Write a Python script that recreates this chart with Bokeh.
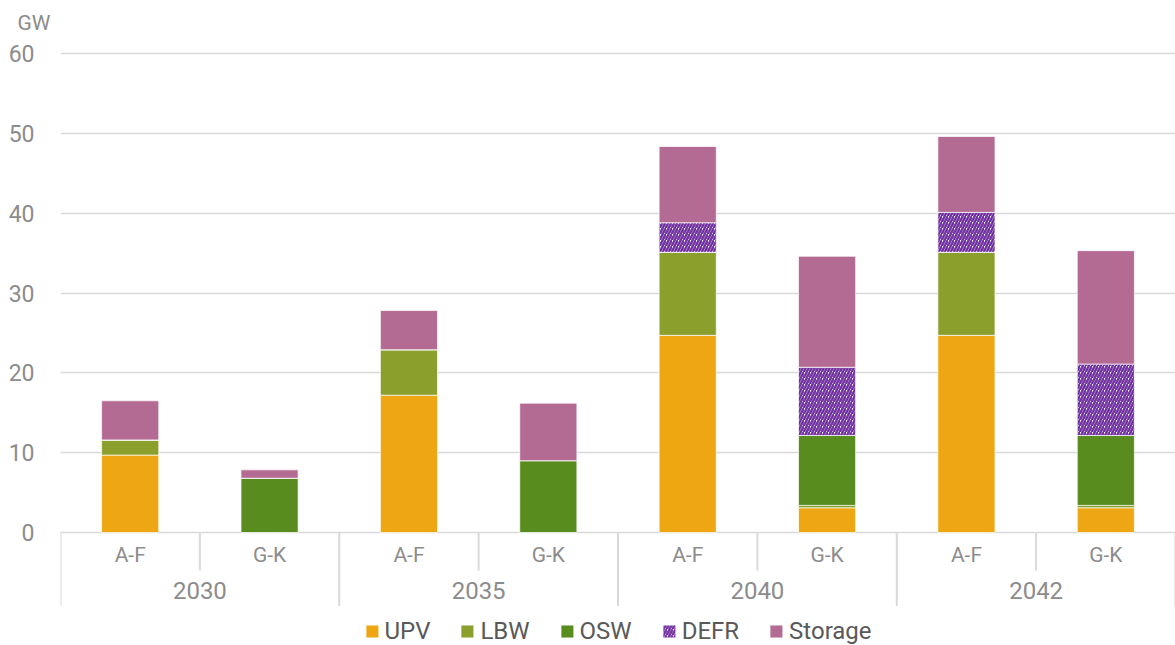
from bokeh.plotting import figure
from bokeh.models import (FactorRange, Range1d, ColumnDataSource, FixedTicker,
                          Legend, LegendItem)
from bokeh.core.properties import value
from bokeh.embed import file_html
from bokeh.resources import INLINE

# ---------------- data ----------------
years = ["2030", "2035", "2040", "2042"]
regions = ["A-F", "G-K"]
series = ["UPV", "LBW", "OSW", "DEFR", "Storage"]
upv     = [9.7, 0.0, 17.2, 0.0, 24.7, 3.1, 24.7, 3.1]
lbw     = [1.9, 0.0, 5.7, 0.0, 10.4, 0.3, 10.4, 0.3]
osw     = [0.0, 6.8, 0.0, 9.0, 0.0, 8.75, 0.0, 8.75]
defr    = [0.0, 0.0, 0.0, 0.0, 3.7, 8.55, 5.0, 8.95]
storage = [4.9, 1.05, 4.9, 7.2, 9.55, 13.9, 9.5, 14.2]
y_ticks = [0, 10, 20, 30, 40, 50, 60]
unit_label = "GW"

# ---------------- styles ----------------
colors = ["#EEA712", "#8A9F2C", "#598C1E", "#FFFFFF", "#B36A93"]
hatch_col = "#7030A0"
FONT = "Roboto"
GREY = "#8C8C8C"
LINE = "#D9D9D9"

factors = [(y, r) for y in years for r in regions]
cols = ["upv", "lbw", "osw", "defr", "storage"]
src = ColumnDataSource(dict(x=factors, upv=upv, lbw=lbw, osw=osw,
                            defr=defr, storage=storage))

# cumulative tops/bottoms
cum = [0.0] * len(factors)
for c, vals in zip(cols, [upv, lbw, osw, defr, storage]):
    src.data[c + "_b"] = list(cum)
    cum = [a + b for a, b in zip(cum, vals)]
    src.data[c + "_t"] = list(cum)

x_range = FactorRange(*factors, factor_padding=0, group_padding=0,
                      subgroup_padding=0, range_padding=0)
y_range = Range1d(-14.15, 61.5)

p = figure(x_range=x_range, y_range=y_range, width=1175, height=645,
           output_backend="svg", toolbar_location=None,
           x_axis_location=None, min_border_left=60, min_border_right=0,
           min_border_top=41, min_border_bottom=0)
p.outline_line_color = None
p.background_fill_color = "white"
p.xgrid.visible = False

# y axis
p.yaxis.ticker = FixedTicker(ticks=y_ticks)
p.yaxis.axis_line_color = None
p.yaxis.major_tick_line_color = None
p.yaxis.minor_tick_line_color = None
p.yaxis.major_label_text_font = FONT
p.yaxis.major_label_text_font_size = "23px"
p.yaxis.major_label_text_color = GREY
p.yaxis.major_label_standoff = 20
p.ygrid.ticker = FixedTicker(ticks=y_ticks)
p.ygrid.grid_line_color = LINE
p.ygrid.grid_line_width = 1.5

# title as unit label
p.title.text = unit_label
p.title.text_font = FONT
p.title.text_font_size = "21px"
p.title.text_font_style = "normal"
p.title.text_color = GREY
p.title.align = "left"
p.title.offset = -43
p.title.standoff = 14

# bars
renderers = []
for i, c in enumerate(cols):
    kw = dict(fill_color=colors[i], line_color="white", line_width=1, line_alpha=0.7)
    if c == "defr":
        kw.update(hatch_pattern="/", hatch_color=hatch_col, hatch_scale=6,
                  hatch_weight=2.4)
    r = p.vbar(x="x", top=c + "_t", bottom=c + "_b", width=0.41, source=src, **kw)
    renderers.append(r)

# category axis drawn in data space below zero (separators at factor edges)
n = len(factors)
inner_x = [(y, regions[0], 0.5) for y in years]
outer_x = [(y, regions[0], -0.5) for y in years] + [(years[-1], regions[-1], 0.5)]
p.segment(x0=inner_x, x1=inner_x, y0=[0] * len(inner_x), y1=[-4.75] * len(inner_x),
          line_color=LINE, line_width=2)
p.segment(x0=outer_x, x1=outer_x, y0=[0] * len(outer_x), y1=[-9.2] * len(outer_x),
          line_color=LINE, line_width=2)

p.text(x=factors, y=[-2.85] * n, text=[f[1] for f in factors],
       text_font=value(FONT), text_font_size="21px", text_color=GREY,
       text_align="center", text_baseline="middle")
p.text(x=years, y=[-7.25] * len(years), text=years,
       text_font=value(FONT), text_font_size="24px", text_color=GREY,
       text_align="center", text_baseline="middle")

legend = Legend(items=[LegendItem(label=s, renderers=[r]) for s, r in zip(series, renderers)],
                orientation="horizontal", location="bottom_center",
                label_text_font=FONT, label_text_font_size="24px",
                label_text_color="#595959", glyph_width=16, glyph_height=16,
                label_standoff=5, spacing=29, padding=0, margin=0,
                border_line_color=None, background_fill_alpha=0)
p.add_layout(legend, "center")

open("out.html", "w").write(file_html(p, INLINE))
